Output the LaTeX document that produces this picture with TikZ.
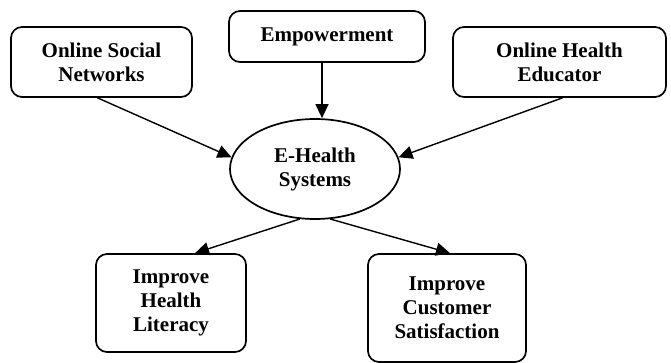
\documentclass[tikz,border=0pt]{standalone}
\usepackage{fontspec}
\setmainfont{Liberation Serif}
\usepackage{tikz}
\usetikzlibrary{positioning, shapes.geometric, arrows.meta}

\tikzset{
    factor/.style={draw, line width=1.7pt, rounded corners=11pt, align=center,
        inner sep=0pt, font=\fontsize{21}{24}\selectfont\bfseries},
    hub/.style={draw, ellipse, line width=1.7pt, align=center, inner sep=0pt,
        minimum width=170pt, minimum height=100pt, font=\fontsize{21}{24}\selectfont\bfseries},
    link/.style={-{Triangle[length=14pt, width=13pt]}, line width=1.4pt}
}

\begin{document}
\begin{tikzpicture}[x=1pt, y=-1pt]
            \useasboundingbox (0,0) rectangle (671,363);

            % influencing factors
            \node (social) at (101.5, 62) [factor, minimum width=181pt, minimum height=70pt] {Online Social\\Networks};
            \node (empower) at (327, 36.5) [factor, minimum width=196pt, minimum height=51pt] {Empowerment};
            \node (educator) at (559.5, 62) [factor, minimum width=213pt, minimum height=70pt] {Online Health\\Educator};

            \node (ehealth) at (315, 169) [hub] {E-Health\\Systems};

            % outcomes
            \node (literacy) at (171, 303) [factor, minimum width=150pt, minimum height=98pt] {Improve\\Health\\Literacy};
            \node (satisfy) at (447, 308) [factor, minimum width=158pt, minimum height=108pt] {Improve\\Customer\\Satisfaction};

            \draw[link] ([xshift=-4pt]social.south) -- (ehealth.172);
            \draw[link] ([xshift=-5pt]empower.south) -- ([xshift=-5pt]empower.south |- ehealth.north);
            \draw[link] ([xshift=3pt]educator.south) -- (ehealth.8);

            \draw[link] (ehealth.253) -- ([xshift=24pt]literacy.north);
            \draw[link] (ehealth.287) -- ([xshift=3pt]satisfy.north);

        \end{tikzpicture}
\end{document}
